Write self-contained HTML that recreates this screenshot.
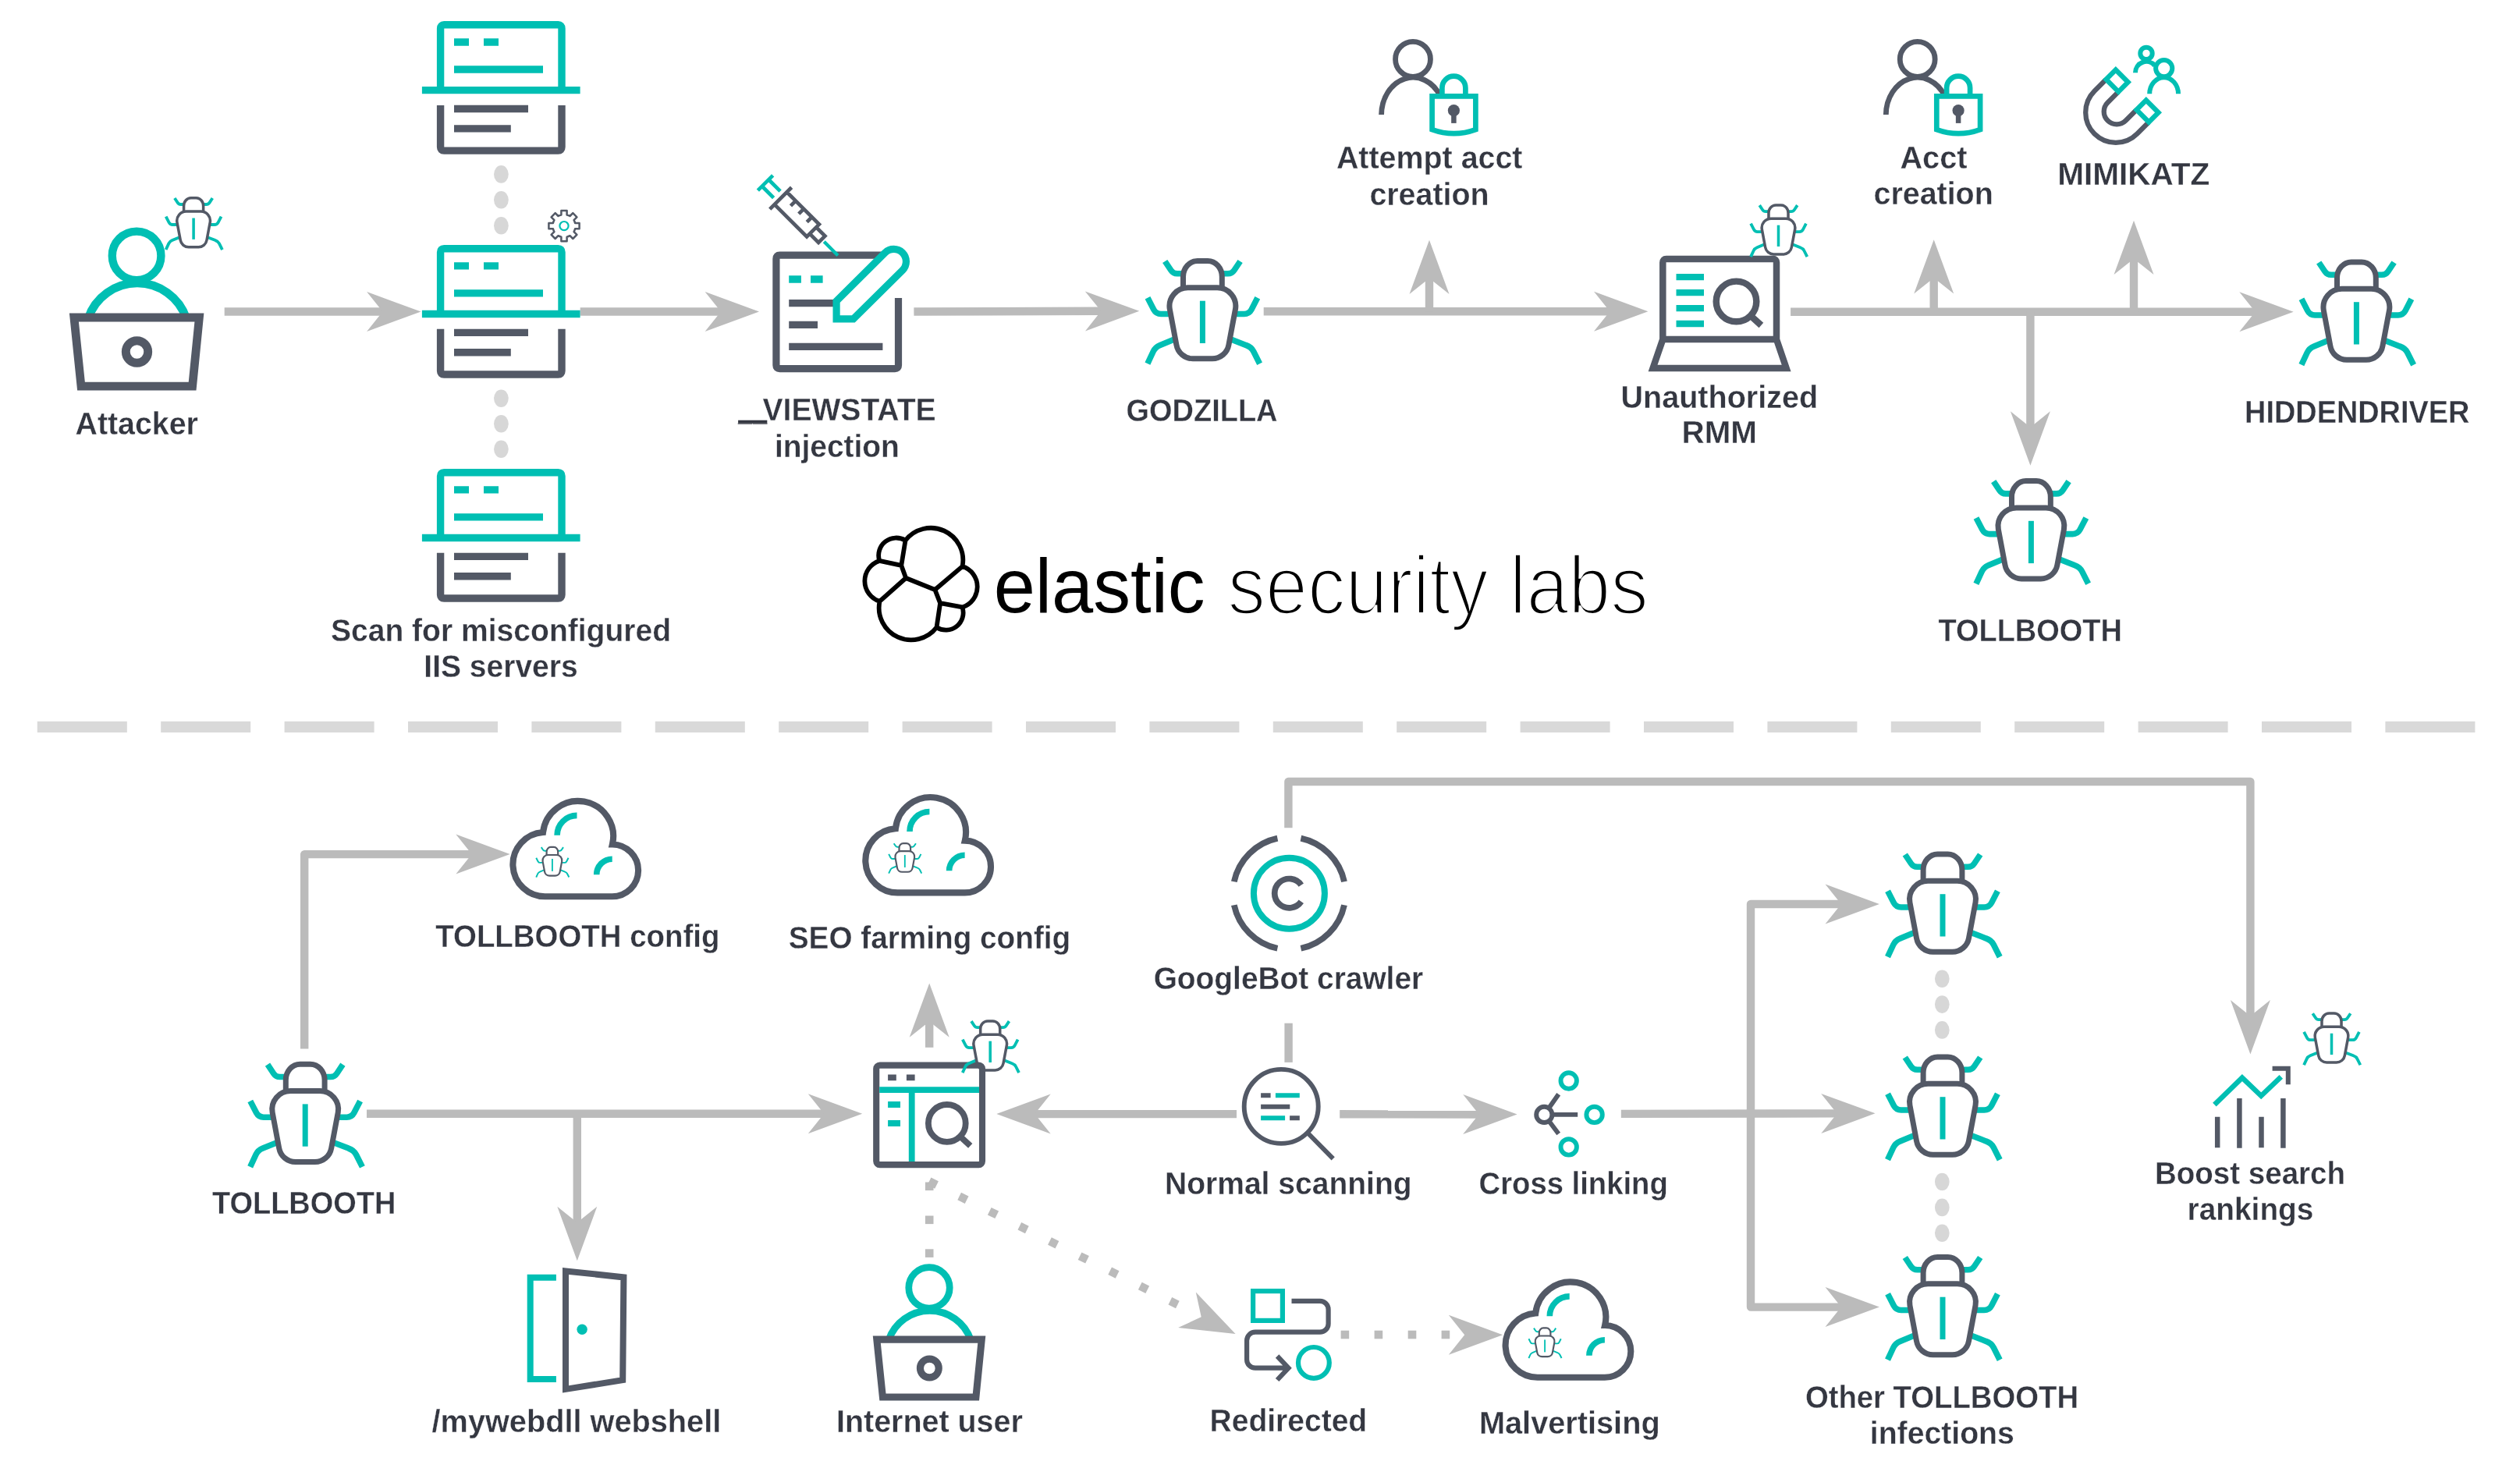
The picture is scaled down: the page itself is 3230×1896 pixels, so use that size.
<!DOCTYPE html>
<html lang="en"><head><meta charset="utf-8"><title>TOLLBOOTH attack flow - elastic security labs</title>
<style>html,body{margin:0;padding:0;background:#fff}body{width:3230px;height:1896px;overflow:hidden}svg{display:block;will-change:transform}</style></head>
<body>
<svg width="3230" height="1896" viewBox="0 0 3230 1896" font-family="'Liberation Sans', Arial, sans-serif">
<defs><g id="bugL" fill="none"><path d="M-24 19.9H-32.6Q-37.7 19.9 -40.5 15.6L-48.2 4.1M-40.5 71.6H-53.3Q-59.6 71.6 -62.7 65.8L-70.4 50.9M-34.5 103.3L-54.4 111.5Q-60.6 114 -63.2 119.6L-70.5 135.3M24 19.9H32.6Q37.7 19.9 40.5 15.6L48.2 4.1M40.5 71.6H53.3Q59.6 71.6 62.7 65.8L70.4 50.9M34.5 103.3L55.5 111.5Q62.5 114 65.3 119.6L73.2 135.3" stroke="#00BFB3" stroke-width="7.5600000000000005" stroke-linejoin="round"/><path d="M-24.9 37.8V23.9A18.3 20.3 0 0 1 -6.6 3.6H6.6A18.3 20.3 0 0 1 24.9 23.9V37.8" stroke="#535966" stroke-width="7"/><path d="M-18.8 37.9A23.6 23.6 0 0 0 -42.05 65.6L-33.5 111.2A21.4 21.4 0 0 0 -12.4 128.9H12.4A21.4 21.4 0 0 0 33.5 111.2L42.05 65.6A23.6 23.6 0 0 0 18.8 37.9Z" stroke="#535966" stroke-width="7"/><path d="M0 54.8V109.1" stroke="#00BFB3" stroke-width="7"/></g><g id="bugS" fill="none"><path d="M-24 19.9H-32.6Q-37.7 19.9 -40.5 15.6L-48.2 4.1M-40.5 71.6H-53.3Q-59.6 71.6 -62.7 65.8L-70.4 50.9M-34.5 103.3L-54.4 111.5Q-60.6 114 -63.2 119.6L-70.5 135.3M24 19.9H32.6Q37.7 19.9 40.5 15.6L48.2 4.1M40.5 71.6H53.3Q59.6 71.6 62.7 65.8L70.4 50.9M34.5 103.3L55.5 111.5Q62.5 114 65.3 119.6L73.2 135.3" stroke="#00BFB3" stroke-width="6.696000000000001" stroke-linejoin="round"/><path d="M-24.9 37.8V23.9A18.3 20.3 0 0 1 -6.6 3.6H6.6A18.3 20.3 0 0 1 24.9 23.9V37.8" stroke="#535966" stroke-width="7.4"/><path d="M-18.8 37.9A23.6 23.6 0 0 0 -42.05 65.6L-33.5 111.2A21.4 21.4 0 0 0 -12.4 128.9H12.4A21.4 21.4 0 0 0 33.5 111.2L42.05 65.6A23.6 23.6 0 0 0 18.8 37.9Z" stroke="#535966" stroke-width="7.4"/><path d="M0 54.8V109.1" stroke="#00BFB3" stroke-width="6.2"/></g><path id="ah" d="M0 0L-69.4 -25.5L-49 0L-69.4 25.5Z" fill="#BBBBBB"/><g id="scan" fill="none" stroke-width="9.4"><path d="M564.6 115.5V36.4Q564.6 31.8 569.2 31.8H715.4Q720 31.8 720 36.4V115.5M540.9 115.6H743.6M582 54H601M620 54H639M582 89H696" stroke="#00BFB3"/><path d="M564.6 134.9V188.5Q564.6 193.1 569.2 193.1H715.4Q720 193.1 720 188.5V134.9M582 139.5H677M582 164.9H654.8" stroke="#535966"/></g><g id="ulock" fill="none"><circle cx="1811" cy="75.9" r="22.45" stroke="#535966" stroke-width="6.8"/><path d="M1770.6 147.1A40.5 48.2 0 0 1 1846 123" stroke="#535966" stroke-width="6.8"/><path d="M1848.4 123.4V112.7A15 15 0 0 1 1878.4 112.7V123.4" stroke="#00BFB3" stroke-width="6.7"/><path d="M1835.6 123.4H1891.4V166.1Q1863.5 176.3 1835.6 166.1Z" stroke="#00BFB3" stroke-width="6.7" fill="#fff"/><circle cx="1863.4" cy="141.7" r="7.6" fill="#535966"/><path d="M1863.4 141.7V157.9" stroke="#535966" stroke-width="6.5"/></g><g id="cloud" fill="none"><path d="M699.8 1149.3A41.2 41.2 0 0 1 696 1067A45.2 45.2 0 1 1 784.9 1082.5A33.4 33.4 0 0 1 784.5 1149.3Z" stroke="#535966" stroke-width="8.1" stroke-linejoin="miter" fill="#fff"/><path d="M714.1 1070.8A25.4 25.4 0 0 1 739.5 1045.4M764.7 1121.2A20 20 0 0 1 784.7 1101.2" stroke="#00BFB3" stroke-width="7.6"/><use href="#bugS" transform="translate(707.9 1084.9) scale(0.293)"/></g><g id="userlap" fill="none"><circle cx="175.1" cy="327.9" r="31.3" stroke="#00BFB3" stroke-width="10.4"/><path d="M113.1 408A66.3 66.3 0 0 1 238.7 408" stroke="#00BFB3" stroke-width="10.8"/><path d="M94.9 407H255.4L246.6 495.2H104Z" stroke="#535966" stroke-width="10.8" fill="#fff"/><circle cx="175.5" cy="451" r="14.2" stroke="#535966" stroke-width="10.9"/></g></defs>
<path d="M287.7 399.5L493.5 399.5" fill="none" stroke="#BBBBBB" stroke-width="10.4" stroke-linejoin="round" />
<use href="#ah" transform="translate(539.5 399.5) rotate(0)"/>
<path d="M743.7 399.5L927 399.5" fill="none" stroke="#BBBBBB" stroke-width="10.4" stroke-linejoin="round" />
<use href="#ah" transform="translate(973 399.5) rotate(0)"/>
<path d="M1171.4 399.5L1414.3 398.8" fill="none" stroke="#BBBBBB" stroke-width="10.4" stroke-linejoin="round" />
<use href="#ah" transform="translate(1460.3 398.7) rotate(-0.2)"/>
<path d="M1619.7 399.2L2066.4 399.2" fill="none" stroke="#BBBBBB" stroke-width="10.4" stroke-linejoin="round" />
<use href="#ah" transform="translate(2112.4 399.2) rotate(0)"/>
<path d="M1832 399.2L1832 353.7" fill="none" stroke="#BBBBBB" stroke-width="10.4" stroke-linejoin="round" />
<use href="#ah" transform="translate(1832 307.7) rotate(-90)"/>
<path d="M2295.1 399.8L2893.7 399.8" fill="none" stroke="#BBBBBB" stroke-width="10.4" stroke-linejoin="round" />
<use href="#ah" transform="translate(2939.7 399.8) rotate(0)"/>
<path d="M2478.7 399.8L2478.7 353.2" fill="none" stroke="#BBBBBB" stroke-width="10.4" stroke-linejoin="round" />
<use href="#ah" transform="translate(2478.7 307.2) rotate(-90)"/>
<path d="M2735 399.8L2735 328.7" fill="none" stroke="#BBBBBB" stroke-width="10.4" stroke-linejoin="round" />
<use href="#ah" transform="translate(2735 282.7) rotate(-90)"/>
<path d="M2602.4 399.8L2602.4 550.7" fill="none" stroke="#BBBBBB" stroke-width="10.4" stroke-linejoin="round" />
<use href="#ah" transform="translate(2602.4 596.7) rotate(90)"/>
<path d="M390.2 1344.6L390.2 1095.1L607.7 1095.1" fill="none" stroke="#BBBBBB" stroke-width="10.4" stroke-linejoin="round" />
<use href="#ah" transform="translate(653.7 1095.1) rotate(0)"/>
<path d="M470 1427.8L1059.2 1427.8" fill="none" stroke="#BBBBBB" stroke-width="10.4" stroke-linejoin="round" />
<use href="#ah" transform="translate(1105.2 1427.8) rotate(0)"/>
<path d="M739.8 1427.8L739.8 1570.2" fill="none" stroke="#BBBBBB" stroke-width="10.4" stroke-linejoin="round" />
<use href="#ah" transform="translate(739.8 1616.2) rotate(90)"/>
<path d="M1191.2 1342.8L1191.2 1306.4" fill="none" stroke="#BBBBBB" stroke-width="10.4" stroke-linejoin="round" />
<use href="#ah" transform="translate(1191.2 1260.4) rotate(-90)"/>
<path d="M1585 1428.1L1323.3 1428.1" fill="none" stroke="#BBBBBB" stroke-width="10.4" stroke-linejoin="round" />
<use href="#ah" transform="translate(1277.3 1428.1) rotate(180)"/>
<path d="M1651.6 1311.7V1361.9" fill="none" stroke="#BBBBBB" stroke-width="10.4" stroke-linejoin="round" />
<path d="M1717.2 1428.3L1898.6 1428.5" fill="none" stroke="#BBBBBB" stroke-width="10.4" stroke-linejoin="round" />
<use href="#ah" transform="translate(1944.6 1428.5) rotate(0.1)"/>
<path d="M2077.8 1427.9L2357.6 1427.4" fill="none" stroke="#BBBBBB" stroke-width="10.4" stroke-linejoin="round" />
<use href="#ah" transform="translate(2403.6 1427.3) rotate(-0.1)"/>
<path d="M2244 1427L2244 1159L2362.9 1159" fill="none" stroke="#BBBBBB" stroke-width="10.4" stroke-linejoin="round" />
<use href="#ah" transform="translate(2408.9 1159) rotate(0)"/>
<path d="M2244 1427L2244 1675.6L2362.9 1675.6" fill="none" stroke="#BBBBBB" stroke-width="10.4" stroke-linejoin="round" />
<use href="#ah" transform="translate(2408.9 1675.6) rotate(0)"/>
<path d="M1651.4 1061.3L1651.4 1002L2884.4 1002L2884.4 1305.5" fill="none" stroke="#BBBBBB" stroke-width="10.4" stroke-linejoin="round" />
<use href="#ah" transform="translate(2884.4 1351.5) rotate(90)"/>
<rect x="1185.9" y="1515.5" width="10.6" height="10.6" fill="#BBBBBB"/>
<rect x="1185.9" y="1558.5" width="10.6" height="10.6" fill="#BBBBBB"/>
<rect x="1185.9" y="1601.3" width="10.6" height="10.6" fill="#BBBBBB"/>
<rect x="1190.5" y="1511.3" width="10.6" height="10.6" fill="#BBBBBB" transform="rotate(26.4 1195.8 1516.6)"/>
<rect x="1229.1" y="1530.5" width="10.6" height="10.6" fill="#BBBBBB" transform="rotate(26.4 1234.4 1535.8)"/>
<rect x="1267.7" y="1549.7" width="10.6" height="10.6" fill="#BBBBBB" transform="rotate(26.4 1273 1555)"/>
<rect x="1306.3" y="1568.9" width="10.6" height="10.6" fill="#BBBBBB" transform="rotate(26.4 1311.6 1574.2)"/>
<rect x="1344.9" y="1588" width="10.6" height="10.6" fill="#BBBBBB" transform="rotate(26.4 1350.2 1593.3)"/>
<rect x="1383.5" y="1607.2" width="10.6" height="10.6" fill="#BBBBBB" transform="rotate(26.4 1388.8 1612.5)"/>
<rect x="1422.1" y="1626.4" width="10.6" height="10.6" fill="#BBBBBB" transform="rotate(26.4 1427.4 1631.7)"/>
<rect x="1460.7" y="1645.6" width="10.6" height="10.6" fill="#BBBBBB" transform="rotate(26.4 1466 1650.9)"/>
<rect x="1499.3" y="1664.8" width="10.6" height="10.6" fill="#BBBBBB" transform="rotate(26.4 1504.6 1670.1)"/>
<use href="#ah" transform="translate(1583.6 1710.1) rotate(26.4)"/>
<rect x="1718.6" y="1705.7" width="10.6" height="10.6" fill="#BBBBBB"/>
<rect x="1761.6" y="1705.7" width="10.6" height="10.6" fill="#BBBBBB"/>
<rect x="1804.7" y="1705.7" width="10.6" height="10.6" fill="#BBBBBB"/>
<rect x="1847.6" y="1705.7" width="10.6" height="10.6" fill="#BBBBBB"/>
<use href="#ah" transform="translate(1926.2 1711.2) rotate(0)"/>
<path d="M47.8 931.8h115M206.2 931.8h115M364.6 931.8h115M523 931.8h115M681.4 931.8h115M839.8 931.8h115M998.2 931.8h115M1156.6 931.8h115M1315 931.8h115M1473.4 931.8h115M1631.8 931.8h115M1790.2 931.8h115M1948.6 931.8h115M2107 931.8h115M2265.4 931.8h115M2423.8 931.8h115M2582.2 931.8h115M2740.6 931.8h115M2899 931.8h115M3057.4 931.8h115" stroke="#D9D9D9" stroke-width="14.2" fill="none"/>
<ellipse cx="642.4" cy="223.4" rx="9.35" ry="11.3" fill="#D7D7D7"/>
<ellipse cx="642.4" cy="256.2" rx="9.35" ry="11.3" fill="#D7D7D7"/>
<ellipse cx="642.4" cy="289.2" rx="9.35" ry="11.3" fill="#D7D7D7"/>
<ellipse cx="642.4" cy="510.7" rx="9.35" ry="11.3" fill="#D7D7D7"/>
<ellipse cx="642.4" cy="543.2" rx="9.35" ry="11.3" fill="#D7D7D7"/>
<ellipse cx="642.4" cy="575.7" rx="9.35" ry="11.3" fill="#D7D7D7"/>
<ellipse cx="2489.3" cy="1254.8" rx="9.35" ry="11.3" fill="#D7D7D7"/>
<ellipse cx="2489.3" cy="1287.6" rx="9.35" ry="11.3" fill="#D7D7D7"/>
<ellipse cx="2489.3" cy="1320.4" rx="9.35" ry="11.3" fill="#D7D7D7"/>
<ellipse cx="2489.3" cy="1515" rx="9.35" ry="11.3" fill="#D7D7D7"/>
<ellipse cx="2489.3" cy="1547.9" rx="9.35" ry="11.3" fill="#D7D7D7"/>
<ellipse cx="2489.3" cy="1580.7" rx="9.35" ry="11.3" fill="#D7D7D7"/>
<use href="#scan"/><use href="#scan" y="286.9"/><use href="#scan" y="573.9"/>
<path d="M719.4 275.5L719.4 270L726.6 270L726.6 275.5A14.6 14.6 0 0 1 730.5 277L734.3 273.2L739.4 278.3L735.6 282.1A14.6 14.6 0 0 1 737.1 286L742.6 286L742.6 293.2L737.1 293.2A14.6 14.6 0 0 1 735.6 297.1L739.4 300.9L734.3 306L730.5 302.2A14.6 14.6 0 0 1 726.6 303.7L726.6 309.2L719.4 309.2L719.4 303.7A14.6 14.6 0 0 1 715.5 302.2L711.7 306L706.6 300.9L710.4 297.1A14.6 14.6 0 0 1 708.9 293.2L703.4 293.2L703.4 286L708.9 286A14.6 14.6 0 0 1 710.4 282.1L706.6 278.3L711.7 273.2L715.5 277A14.6 14.6 0 0 1 719.4 275.5Z" fill="none" stroke="#535966" stroke-width="2.5" stroke-linejoin="round"/>
<circle cx="723" cy="289.6" r="5.6" fill="none" stroke="#00BFB3" stroke-width="2.2"/>
<use href="#userlap"/>
<use href="#bugL" transform="translate(248.1 252) scale(0.503)"/>
<use href="#userlap" transform="translate(1191 1712.6) scale(0.838) translate(-175.1 -401.6)"/>
<g fill="none">
<path d="M1151.5 382.1V468.2Q1151.5 472.7 1147 472.7H999.4Q994.9 472.7 994.9 468.2V331.7Q994.9 327.2 999.4 327.2H1133" stroke="#535966" stroke-width="9.2"/>
<path d="M1011.2 358H1026.9M1039 358H1054.6" stroke="#00BFB3" stroke-width="9.6"/>
<path d="M1011.2 388.6H1075M1011.2 416.4H1048M1011.2 444.3H1131.4" stroke="#535966" stroke-width="9.2"/>
<path d="M1072.1 408.8V385.9L1134.4 324A15.8 15.8 0 0 1 1156.8 346.4L1093.8 408.8Z" stroke="#00BFB3" stroke-width="9.2" fill="#fff"/>
<g transform="translate(981 234.5) rotate(45)">
<path d="M0 -13.65V13.65M0 -6H21M0 6H21" stroke="#00BFB3" stroke-width="4.7"/>
<path d="M106.4 0H131.4" stroke="#00BFB3" stroke-width="4.3"/>
<path d="M27.8 -19.7V19.7M27.8 -11.2H86.3V11.2H27.8M86.3 -5.9H102.2V5.9H86.3M43.7 -11.2V-2.2M58.3 -11.2V-2.2M73.1 -11.2V-2.2" stroke="#535966" stroke-width="4.7"/>
</g></g>
<use href="#bugL" x="1541.4" y="330.9"/>
<use href="#bugL" x="3020.4" y="332.4"/>
<use href="#bugL" x="2603.4" y="613"/>
<use href="#bugL" x="391.2" y="1360.6"/>
<use href="#bugL" x="2490" y="1091.4"/>
<use href="#bugL" x="2490" y="1351.4"/>
<use href="#bugL" x="2490" y="1607.9"/>
<use href="#ulock"/><use href="#ulock" x="646.7"/>
<g fill="none">
<path d="M2131.3 435V336.6Q2131.3 332.1 2135.8 332.1H2272.5Q2277 332.1 2277 336.6V435ZM2131.3 435L2118.6 471.9H2289.6L2277 435" stroke="#535966" stroke-width="8.5" stroke-linejoin="miter"/>
<path d="M2148.5 355.2H2184M2148.5 375.2H2184M2148.5 395.1H2184M2148.5 415H2184" stroke="#00BFB3" stroke-width="8.3"/>
<circle cx="2225.5" cy="386.4" r="25.8" stroke="#535966" stroke-width="8.45"/><path d="M2243.7 404.6L2257.4 417" stroke="#535966" stroke-width="8.45"/>
</g>
<use href="#bugL" transform="translate(2279.5 261.1) scale(0.503)"/>
<g fill="none" transform="translate(2711.9 144.2) rotate(-45)">
<path d="M21.2 -38.7H0A38.7 38.7 0 0 0 0 38.7H21.2M21.2 -16.4H1.7A16.4 16.4 0 0 0 1.7 16.4H21.2" stroke="#535966" stroke-width="6.3"/>
<path d="M21.2 -38.7h17.4v22.3h-17.4zM21.2 16.4h17.4v22.3h-17.4z" stroke="#00BFB3" stroke-width="6.3"/>
</g>
<g fill="none" stroke="#00BFB3" stroke-width="6">
<circle cx="2751" cy="68.4" r="7.7"/><path d="M2737 93.2A14 14 0 0 1 2761.7 84"/>
<circle cx="2773.7" cy="87.6" r="10.6"/><path d="M2755.2 120.3A18.4 21.1 0 0 1 2792 120.3"/>
</g>
<use href="#cloud"/><use href="#cloud" x="451.9" y="-4.9"/><use href="#cloud" x="1272.2" y="616.5"/>
<g fill="none">
<rect x="1123.2" y="1365.6" width="135.8" height="127.5" rx="4.5" stroke="#535966" stroke-width="8.1" fill="#fff"/>
<path d="M1138.1 1381.3h10.7M1161.9 1381.3h10.7" stroke="#535966" stroke-width="7.8"/>
<path d="M1127.2 1397.1H1255M1168.7 1401V1489.1" stroke="#00BFB3" stroke-width="7.8"/>
<path d="M1138.1 1416H1154M1138.1 1440H1154" stroke="#00BFB3" stroke-width="7.8"/>
<circle cx="1213.8" cy="1439.9" r="23.9" stroke="#535966" stroke-width="7.8"/><path d="M1230.7 1456.8L1243.7 1468.9" stroke="#535966" stroke-width="7.8"/>
</g>
<use href="#bugL" transform="translate(1269.2 1307.1) scale(0.503)"/>
<g fill="none">
<path d="M1723 1160.2A72.2 72.2 0 0 1 1667.4 1215.8M1637.4 1215.8A72.2 72.2 0 0 1 1581.8 1160.2M1581.8 1130.2A72.2 72.2 0 0 1 1637.4 1074.6M1667.4 1074.6A72.2 72.2 0 0 1 1723 1130.2" stroke="#535966" stroke-width="7.8"/>
<circle cx="1652.4" cy="1145.2" r="45.5" stroke="#00BFB3" stroke-width="8"/>
<path d="M1667.8 1134.6A18.7 18.7 0 1 0 1667.8 1155.8" stroke="#535966" stroke-width="7.7"/>
</g>
<g fill="none" stroke-width="5.9">
<circle cx="1642.2" cy="1418.4" r="47.5" stroke="#535966" fill="#fff"/><path d="M1675.8 1452L1708.7 1485.4" stroke="#535966"/>
<path d="M1616.1 1404.3H1628.6M1616.1 1418.8H1653.3M1653.1 1433.2H1665.8" stroke="#535966"/>
<path d="M1634.9 1404.3H1665.8M1616.1 1433.2H1647.1" stroke="#00BFB3"/>
</g>
<g fill="none" stroke-width="5.9">
<path d="M1989.3 1428.9L2022.2 1428.9M1985.1 1420.7L1997.7 1402.8M1985.3 1436.9L1997.7 1453.5" stroke="#535966"/>
<circle cx="1979.3" cy="1428.9" r="10.1" stroke="#535966"/>
<circle cx="2010.7" cy="1385.5" r="10.2" stroke="#00BFB3"/>
<circle cx="2043.6" cy="1428.9" r="10.2" stroke="#00BFB3"/>
<circle cx="2010.7" cy="1470.4" r="10.2" stroke="#00BFB3"/>
</g>
<g fill="none">
<path d="M2842.2 1431.8V1471.3M2870.4 1408V1471.8M2898.5 1431.8V1471.3M2926.4 1408V1471.8" stroke="#535966" stroke-width="6.5"/>
<path d="M2838.4 1416.2L2873.9 1381.6L2898.2 1404.8L2923.8 1380.4" stroke="#00BFB3" stroke-width="6.5"/>
<path d="M2912.6 1369.8H2932.8V1390.2" stroke="#535966" stroke-width="6"/>
</g>
<use href="#bugL" transform="translate(2988.5 1297.2) scale(0.503)"/>
<g fill="none">
<path d="M712.9 1637.8H679.7V1768H712.9" stroke="#00BFB3" stroke-width="8"/>
<path d="M725 1629.4L799.4 1637.4L798.2 1769.2L725 1780.9Z" stroke="#535966" stroke-width="8"/>
<circle cx="746.1" cy="1704.2" r="6.7" fill="#00BFB3"/>
</g>
<g fill="none" stroke-width="6.2">
<rect x="1606.1" y="1655.1" width="37.8" height="37.8" stroke="#00BFB3"/>
<path d="M1655.5 1667.9H1691.8A10.8 10.8 0 0 1 1702.6 1678.7V1696.9A10.8 10.8 0 0 1 1691.8 1707.7H1608.9A10.8 10.8 0 0 0 1598.1 1718.5V1742.9A10.8 10.8 0 0 0 1608.9 1753.7H1650M1637.1 1738.5L1651.5 1753.7L1637.1 1769" stroke="#535966"/>
<circle cx="1683.9" cy="1746.9" r="19.9" stroke="#00BFB3"/>
</g>
<path d="M1160.5 692.8A41.2 41.2 0 0 1 1233.5 726.1M1233.5 726.1A27.4 27.4 0 0 1 1233.5 778.4M1233.5 778.4A22.3 22.3 0 0 1 1200.5 804.3M1200.5 804.3A41.2 41.2 0 0 1 1127.5 770.9M1127.5 770.9A27.3 27.3 0 0 1 1127.2 718.9M1127.2 718.9A22.6 22.6 0 0 1 1160.5 692.8M1160.5 692.8L1155.3 724.9M1127.2 718.9L1155.3 724.9M1155.3 724.9L1161.1 741M1161.1 741L1127.5 770.9M1161.1 741L1198.4 756M1198.4 756L1233.5 726.1M1198.4 756L1205.1 773.2M1205.1 773.2L1233.5 778.4M1205.1 773.2L1200.5 804.3" fill="none" stroke="#000" stroke-width="5.8" stroke-linecap="round" stroke-linejoin="round"/>
<text x="1273.7" y="785.4" font-size="99" fill="#000" textLength="271" lengthAdjust="spacingAndGlyphs">elastic</text>
<text x="1573.4" y="787.4" font-size="106" fill="#000" stroke="#fff" stroke-width="3.7" textLength="539.5" lengthAdjust="spacingAndGlyphs">security labs</text>
<g font-weight="bold" font-size="41" fill="#343741" stroke="#fff" stroke-width="0.3" text-anchor="middle">
<text x="175.2" y="556.7" textLength="157.3" lengthAdjust="spacingAndGlyphs">Attacker</text>
<text x="642" y="821.7" textLength="436.2" lengthAdjust="spacingAndGlyphs">Scan for misconfigured</text>
<text x="642" y="868.2" textLength="197.4" lengthAdjust="spacingAndGlyphs">IIS servers</text>
<text x="1072.9" y="585.6" textLength="160" lengthAdjust="spacingAndGlyphs">injection</text>
<text x="1540.5" y="539.5" textLength="194" lengthAdjust="spacingAndGlyphs">GODZILLA</text>
<text x="1832.2" y="216.4" textLength="238.6" lengthAdjust="spacingAndGlyphs">Attempt acct</text>
<text x="1832" y="262.5" textLength="153.2" lengthAdjust="spacingAndGlyphs">creation</text>
<text x="2203.8" y="522.7" textLength="252.5" lengthAdjust="spacingAndGlyphs">Unauthorized</text>
<text x="2203.8" y="568.4" textLength="96.4" lengthAdjust="spacingAndGlyphs">RMM</text>
<text x="2478.5" y="215.9" textLength="86.1" lengthAdjust="spacingAndGlyphs">Acct</text>
<text x="2478.1" y="262.3" textLength="153.2" lengthAdjust="spacingAndGlyphs">creation</text>
<text x="2734.8" y="237.1" textLength="195" lengthAdjust="spacingAndGlyphs">MIMIKATZ</text>
<text x="3021.2" y="541.7" textLength="288.2" lengthAdjust="spacingAndGlyphs">HIDDENDRIVER</text>
<text x="2602.2" y="821.6" textLength="235.4" lengthAdjust="spacingAndGlyphs">TOLLBOOTH</text>
<text x="740.3" y="1213.9" textLength="364.1" lengthAdjust="spacingAndGlyphs">TOLLBOOTH config</text>
<text x="1191.5" y="1215.5" textLength="361.4" lengthAdjust="spacingAndGlyphs">SEO farming config</text>
<text x="1651.4" y="1267.6" textLength="345.5" lengthAdjust="spacingAndGlyphs">GoogleBot crawler</text>
<text x="389.7" y="1556.1" textLength="235.4" lengthAdjust="spacingAndGlyphs">TOLLBOOTH</text>
<text x="1651.3" y="1531.4" textLength="316.6" lengthAdjust="spacingAndGlyphs">Normal scanning</text>
<text x="2016.7" y="1531.4" textLength="242.2" lengthAdjust="spacingAndGlyphs">Cross linking</text>
<text x="2884" y="1517.8" textLength="244.1" lengthAdjust="spacingAndGlyphs">Boost search</text>
<text x="2884.5" y="1564.2" textLength="161.8" lengthAdjust="spacingAndGlyphs">rankings</text>
<text x="738.9" y="1836.2" textLength="370.7" lengthAdjust="spacingAndGlyphs">/mywebdll webshell</text>
<text x="1191.4" y="1836.1" textLength="238.8" lengthAdjust="spacingAndGlyphs">Internet user</text>
<text x="1651.4" y="1834.7" textLength="201.6" lengthAdjust="spacingAndGlyphs">Redirected</text>
<text x="2011.8" y="1837.5" textLength="231.7" lengthAdjust="spacingAndGlyphs">Malvertising</text>
<text x="2489" y="1804.6" textLength="350.2" lengthAdjust="spacingAndGlyphs">Other TOLLBOOTH</text>
<text x="2489.3" y="1851" textLength="185.1" lengthAdjust="spacingAndGlyphs">infections</text>
<text x="946.1" y="539.2" text-anchor="start" textLength="37.2" lengthAdjust="spacingAndGlyphs">__</text>
<text x="1199.6" y="539.2" text-anchor="end" textLength="222.1" lengthAdjust="spacingAndGlyphs">VIEWSTATE</text>
<rect x="946.1" y="538.7" width="37.2" height="4" fill="#343741" stroke="none"/>
</g>
</svg>
</body></html>
